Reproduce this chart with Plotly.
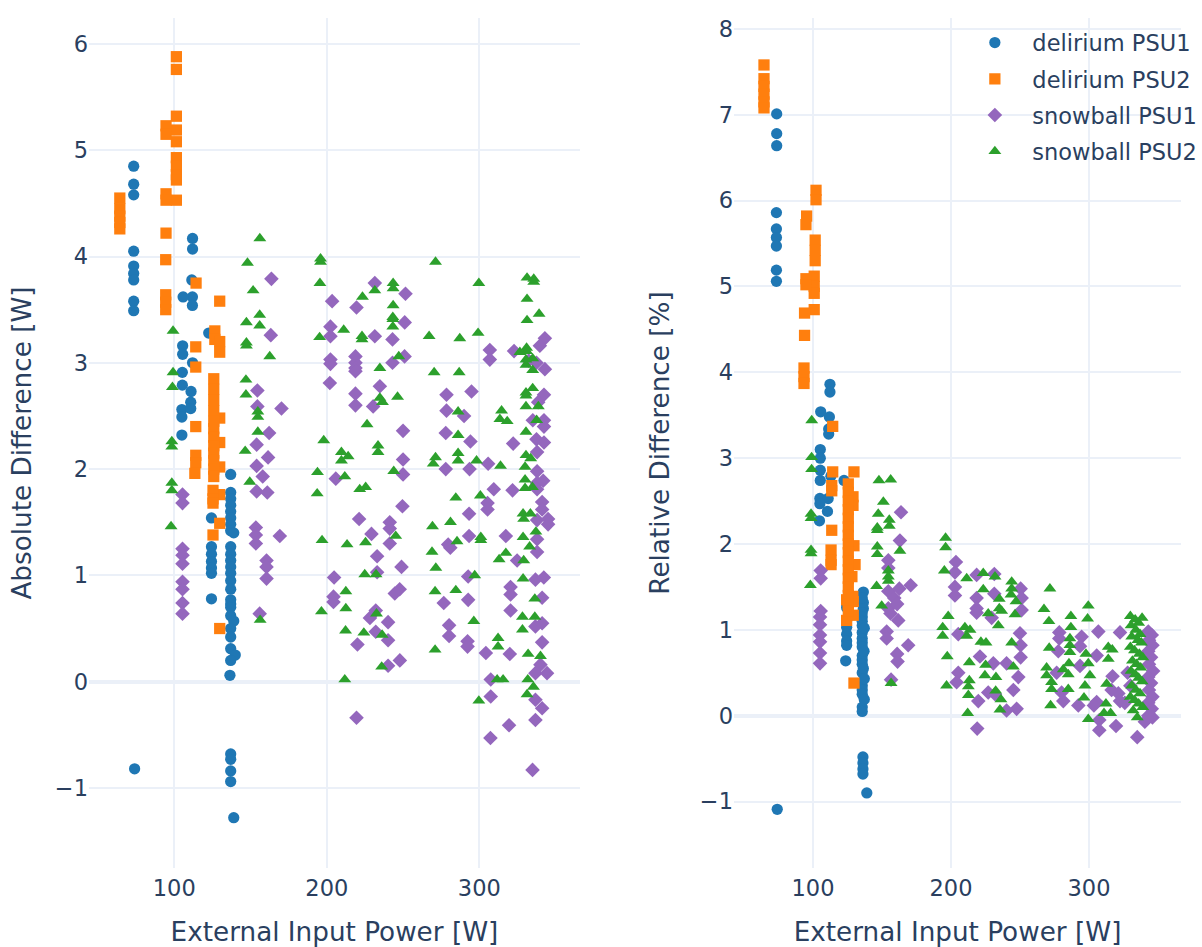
import plotly.graph_objects as go
from plotly.subplots import make_subplots

# ---------------- Absolute difference [W] vs external input power [W] ----------------
del1_abs_x = [73.4, 73.4, 73.4, 73.4, 73.4, 73.4, 73.4, 73.4, 73.4, 74.0,
              112.0, 112.0, 111.5, 111.9, 111.9, 112.0,
              105.8, 105.5, 105.5, 105.3, 105.3, 105.0, 105.0, 105.0,
              111.0, 110.8, 110.8, 122.6,
              124.4, 124.4, 124.4, 124.4, 124.4, 124.4, 124.4,
              137.0, 137.0, 137.0, 137.0, 137.0, 137.0, 137.0, 137.0, 139.0, 137.0,
              137.0, 137.0, 137.0, 137.0, 137.0, 137.0, 137.0, 137.0, 137.0, 137.0,
              139.0, 137.0, 137.0, 137.0, 140.0, 137.0, 136.5,
              137.0, 137.0, 137.0, 137.0, 139.0]
del1_abs_y = [4.85, 4.68, 4.58, 4.05, 3.91, 3.84, 3.78, 3.58, 3.49, -0.82,
              4.17, 4.07, 3.78, 3.62, 3.54, 3.00,
              3.62, 3.16, 3.08, 2.91, 2.79, 2.56, 2.49, 2.32,
              2.73, 2.63, 2.57, 3.28,
              1.54, 1.27, 1.20, 1.13, 1.07, 1.02, 0.78,
              1.95, 1.78, 1.72, 1.66, 1.60, 1.54, 1.48, 1.42, 1.40, 1.27,
              1.20, 1.14, 1.08, 1.02, 0.95, 0.87, 0.77, 0.73, 0.70, 0.62,
              0.57, 0.50, 0.42, 0.31, 0.25, 0.20, 0.06,
              -0.68, -0.73, -0.84, -0.94, -1.28]

del2_abs_x = [64.3, 64.3, 64.3, 64.3, 64.3,
              101.4, 101.4, 101.4, 101.4, 101.4, 101.4, 101.4, 101.4, 101.4, 101.4,
              94.6, 94.6, 94.6, 94.6, 94.6, 94.4, 94.4, 94.4, 94.4,
              114.3, 114.1, 114.1, 114.1, 114.1, 114.1, 113.5,
              126.6, 126.6,
              129.8, 129.8, 129.8, 129.8, 129.8, 129.8, 129.8, 129.8, 129.8,
              125.9, 125.9, 125.9, 125.9, 125.9, 125.9, 125.9, 125.9, 125.9, 125.9,
              125.9, 125.9, 125.4, 125.4, 125.4, 125.4]
del2_abs_y = [4.55, 4.45, 4.38, 4.32, 4.26,
              5.88, 5.76, 5.32, 5.19, 5.08, 4.93, 4.85, 4.77, 4.72, 4.53,
              5.23, 5.15, 4.59, 4.53, 4.22, 3.97, 3.64, 3.57, 3.50,
              3.75, 3.15, 2.96, 2.40, 2.13, 2.06, 1.96,
              3.30, 3.22,
              3.58, 3.20, 3.10, 2.48, 2.25, 2.02, 1.76, 1.49, 0.50,
              2.85, 2.75, 2.65, 2.55, 2.45, 2.38, 2.30, 2.22, 2.15, 2.08,
              2.00, 1.93, 1.80, 1.72, 1.68, 1.38]

snow1_abs_x = [163.7, 163.3, 154.5, 154.5, 170.3, 162.2, 154.0, 161.5, 154.0, 158.0,
               154.0, 161.0, 153.5, 153.5, 153.5, 169.2, 160.5, 160.5, 160.5, 156.0,
               105.4, 105.4, 105.4, 105.4, 105.4, 105.4, 105.4, 105.4, 105.4,
               231.5, 251.6, 203.5, 219.5, 251.1, 202.4, 202.4, 231.5, 243.1, 202.4,
               202.4, 218.8, 218.8, 218.8, 218.8, 243.1, 251.0, 202.0, 234.8, 218.8,
               218.8, 230.4, 250.0, 250.0, 250.0, 205.9,
               249.6, 221.2, 241.3, 241.3, 229.3, 241.3, 233.0, 249.0, 204.8, 233.0,
               244.6, 247.8, 204.4, 204.4, 232.1, 228.3, 240.2, 232.1, 240.2, 220.1,
               247.9, 240.2, 219.5,
               343.0, 339.7, 306.9, 322.8, 306.9, 337.5, 343.0, 332.4, 278.5, 294.9,
               342.4, 338.6, 278.5, 290.0, 335.1, 342.4, 342.4, 278.0, 294.2, 322.2,
               337.5, 342.4, 337.9, 305.8, 278.0, 293.6, 337.9, 309.5, 321.8, 337.9,
               337.9, 341.9,
               305.4, 305.4, 293.3, 293.3, 279.6, 281.0, 317.4, 324.8, 337.9, 345.1,
               345.1, 337.9, 337.9, 341.2, 341.2, 292.7, 336.8, 342.3, 276.7, 292.7,
               320.5, 320.5, 320.5, 341.2, 280.2, 280.2, 292.3, 292.3, 336.8, 341.2,
               341.2, 304.3, 320.0, 336.8, 344.4, 340.1, 307.5, 307.5, 336.8, 341.2,
               336.8, 319.5, 307.3, 334.9]
snow1_abs_y = [3.79, 3.26, 2.74, 2.59, 2.57, 2.34, 2.23, 2.11, 2.03, 1.93,
               1.79, 1.78, 1.45, 1.38, 1.30, 1.37, 1.14, 1.08, 0.97, 0.64,
               1.76, 1.68, 1.25, 1.19, 1.11, 0.94, 0.87, 0.74, 0.64,
               3.75, 3.65, 3.58, 3.52, 3.38, 3.34, 3.25, 3.25, 3.22, 3.03,
               2.99, 3.06, 3.00, 2.95, 2.92, 3.00, 3.06, 2.81, 2.78, 2.71,
               2.60, 2.59, 2.36, 2.09, 1.95, 1.91,
               1.65, 1.53, 1.50, 1.44, 1.39, 1.30, 1.18, 1.08, 0.98, 1.03,
               0.83, 0.87, 0.80, 0.75, 0.67, 0.60, 0.56, 0.47, 0.39, 0.35,
               0.20, 0.15, -0.34,
               3.23, 3.16, 3.12, 3.11, 3.03, 3.00, 2.94, 3.02, 2.70, 2.73,
               2.70, 2.63, 2.55, 2.50, 2.46, 2.46, 2.40, 2.34, 2.26, 2.24,
               2.28, 2.25, 2.16, 2.05, 2.00, 2.00, 1.98, 1.81, 1.80, 1.87,
               1.81, 1.89,
               1.68, 1.62, 1.58, 1.37, 1.29, 1.26, 1.37, 1.14, 1.52, 1.53,
               1.48, 1.34, 1.22, 1.69, 1.62, 0.99, 0.96, 0.98, 0.74, 0.77,
               0.89, 0.82, 0.67, 0.79, 0.53, 0.43, 0.38, 0.33, 0.52, 0.55,
               0.37, 0.27, 0.26, 0.08, 0.08, 0.16, 0.02, -0.14, -0.17, -0.25,
               -0.36, -0.41, -0.53, -0.83]

snow2_abs_x = [156.1, 148.0, 151.7, 156.0, 99.2, 147.3, 156.0, 147.3, 147.3, 162.6,
               99.2, 98.8, 147.0, 147.0, 154.8, 154.8, 154.8, 98.4, 98.4, 146.5,
               98.4, 98.4, 149.5, 97.9, 156.3,
               195.9, 195.9, 195.5, 195.3, 271.3, 231.5, 223.4, 243.5, 243.5, 243.5,
               243.3, 243.3, 243.3, 211.1, 223.1, 223.1, 267.1, 247.2, 234.8, 270.4,
               234.8, 236.5, 246.4, 226.4, 198.0, 209.6, 214.0, 209.6, 233.6, 233.6,
               243.9, 193.9, 211.8, 271.3, 269.8, 193.7, 221.6, 225.5,
               196.9, 213.3, 225.4, 245.2, 269.3, 269.0, 271.5, 224.9, 232.3, 212.5,
               212.5, 196.5, 212.3, 224.3, 232.6, 236.3, 236.0, 211.8, 271.0, 271.0,
               299.7, 331.3, 335.7, 335.7, 331.3, 339.2, 331.3, 287.2, 299.2, 331.0,
               331.0, 326.6, 330.6, 335.0, 330.6, 335.0, 286.8, 330.6, 335.0, 330.6,
               330.6, 338.7, 286.1, 314.6, 313.5, 318.3, 337.6, 330.6, 286.1, 286.1,
               286.1, 298.2, 313.9, 330.6, 333.7, 330.0, 330.0, 330.0, 334.8, 300.7,
               284.6,
               281.1, 285.4, 301.0, 301.0, 328.7, 333.5, 329.1, 337.1, 328.7, 333.0,
               317.4, 313.0, 329.1, 297.0, 328.7, 284.6, 336.4, 296.4, 328.3, 336.4,
               328.3, 312.3, 312.3, 332.0, 340.1, 311.7, 315.6, 331.8, 335.5, 331.3,
               299.7]
snow2_abs_y = [4.17, 3.94, 3.68, 3.45, 3.30, 3.38, 3.35, 3.19, 3.16, 3.06,
               2.91, 2.77, 2.84, 2.70, 2.54, 2.49, 2.35, 2.26, 2.21, 2.17,
               1.87, 1.80, 1.88, 1.46, 0.58,
               3.98, 3.95, 3.75, 3.24, 3.95, 3.68, 3.62, 3.75, 3.70, 3.54,
               3.43, 3.41, 3.34, 3.31, 3.25, 3.22, 3.25, 3.06, 2.95, 2.91,
               2.67, 2.63, 2.68, 2.42, 2.27, 2.16, 2.12, 2.08, 2.22, 2.16,
               1.98, 1.97, 1.93, 2.11, 2.05, 1.77, 1.81, 1.83,
               1.33, 1.29, 1.31, 1.37, 1.46, 1.22, 1.07, 1.01, 1.01, 0.85,
               0.69, 0.66, 0.48, 0.46, 0.64, 0.44, 0.14, 0.02, 0.85, 0.30,
               3.75, 3.80, 3.79, 3.76, 3.60, 3.46, 3.40, 3.23, 3.28, 3.14,
               3.11, 3.10, 3.03, 3.04, 2.98, 2.93, 2.91, 2.72, 2.76, 2.69,
               2.59, 2.59, 2.54, 2.55, 2.47, 2.45, 2.46, 2.35, 2.32, 2.15,
               2.08, 2.08, 2.03, 2.13, 2.10, 2.02, 1.90, 1.82, 1.83, 1.75,
               1.73,
               1.50, 1.32, 1.36, 1.33, 1.58, 1.58, 1.53, 1.41, 1.36, 1.27,
               1.21, 1.15, 1.14, 1.00, 0.97, 0.86, 0.78, 0.57, 0.61, 0.61,
               0.49, 0.41, 0.33, 0.26, 0.24, 0.02, 0.02, 0.02, -0.05, -0.12,
               -0.18]

# ---------------- Relative difference [%] vs external input power [W] ----------------
del1_rel_x = [73.7, 73.7, 73.7, 73.5, 73.5, 73.5, 73.5, 73.5, 73.5, 74.1,
              112.3, 112.3, 105.6, 111.9, 111.4, 111.4, 105.3, 105.3, 105.3, 105.3,
              113.0, 122.5, 105.0, 111.0, 105.0, 110.5, 104.7,
              136.5, 136.5, 136.5, 124.4, 124.4, 124.4, 124.4, 124.4, 124.4, 124.4, 123.7,
              135.7, 135.7, 135.7, 135.7, 135.7, 135.7, 135.7, 135.7, 135.7, 135.7,
              135.7, 135.7, 135.7, 135.7, 135.7, 135.7, 135.7, 135.7,
              137.2, 137.0, 136.5, 137.2, 137.2,
              136.2, 136.2, 136.2, 136.2, 139.0]
del1_rel_y = [7.01, 6.78, 6.64, 5.86, 5.67, 5.57, 5.47, 5.19, 5.06, -1.09,
              3.86, 3.77, 3.54, 3.48, 3.34, 3.28, 3.10, 3.00, 2.86, 2.74,
              2.79, 2.74, 2.53, 2.53, 2.47, 2.38, 2.27,
              1.44, 1.32, 1.25, 1.30, 1.26, 1.11, 1.03, 0.95, 0.87, 0.82, 0.64,
              1.37, 1.20, 1.15, 1.10, 1.05, 0.97, 0.90, 0.85, 0.80, 0.70,
              0.65, 0.60, 0.50, 0.35, 0.30, 0.25, 0.10, 0.05,
              1.02, 0.75, 0.55, 0.43, 0.19,
              -0.48, -0.55, -0.62, -0.68, -0.90]

del2_rel_x = [64.5, 64.5, 64.5, 64.5, 64.5, 64.5,
              102.2, 102.2, 101.6, 101.6, 101.6, 100.9, 100.9, 100.9, 100.9,
              95.4, 94.9, 94.9, 94.9, 93.9, 93.9, 93.5, 93.5, 93.5,
              114.3, 114.3, 113.6, 113.6, 113.6, 113.1, 113.1, 113.1,
              129.7, 129.0, 129.0, 129.7, 130.5, 128.2, 128.9, 124.4, 129.2, 124.4,
              129.2, 129.7,
              125.6, 125.6, 125.6, 125.6, 125.6, 125.6, 125.6, 125.6, 125.6, 125.6,
              125.6, 125.6, 125.6, 125.6, 125.6, 125.6]
del2_rel_y = [7.58, 7.42, 7.33, 7.24, 7.15, 7.08,
              6.12, 6.01, 5.54, 5.42, 5.30, 5.12, 5.00, 4.92, 4.73,
              5.82, 5.72, 5.09, 5.02, 4.69, 4.43, 4.05, 3.95, 3.87,
              3.37, 2.84, 2.68, 2.62, 2.16, 1.93, 1.81, 1.76,
              2.84, 2.55, 2.45, 1.98, 1.76, 1.62, 1.39, 1.35, 1.33, 1.11,
              1.17, 0.38,
              2.70, 2.60, 2.50, 2.40, 2.30, 2.20, 2.10, 2.00, 1.90, 1.80,
              1.70, 1.60, 1.50, 1.40, 1.30, 1.22]

snow1_rel_x = [163.8, 163.0, 154.6, 154.6, 105.6, 105.6, 170.8, 154.6, 162.6, 158.9,
               154.6, 105.6, 105.1, 105.1, 105.1, 105.1, 105.1, 105.1, 153.4, 153.4,
               161.0, 156.2, 161.8, 169.0, 161.0, 161.3, 156.6,
               203.6, 202.9, 202.9, 202.9, 218.6, 218.6, 218.6, 218.6, 231.4, 231.4,
               229.5, 250.5, 251.2, 251.2, 250.0, 250.5, 250.5, 248.8, 247.6, 240.3,
               245.2, 240.3, 205.3, 205.3, 204.1, 221.0, 230.7, 227.0, 231.9, 219.8,
               219.0,
               278.5, 278.5, 277.8, 276.6, 280.2, 281.4, 294.7, 293.5, 293.5, 292.3,
               306.8, 305.6, 307.5, 319.6, 307.5, 305.6, 303.6, 317.1, 321.3, 322.5,
               316.4, 322.5,
               343.0, 345.5, 343.5, 346.0, 343.0, 345.0, 343.5, 346.5, 343.0, 345.0,
               343.5, 346.0, 343.0, 345.5, 343.0, 346.0, 335.0, 340.5, 328.0, 330.0,
               326.0]
snow1_rel_y = [2.37, 2.04, 1.81, 1.72, 1.69, 1.60, 1.52, 1.45, 1.48, 1.37,
               1.25, 1.22, 1.15, 1.06, 0.94, 0.86, 0.73, 0.61, 0.98, 0.90,
               1.30, 1.19, 1.11, 0.82, 0.72, 0.63, 0.42,
               1.79, 1.67, 1.50, 1.40, 1.64, 1.37, 1.25, 1.20, 1.65, 1.42,
               1.14, 1.48, 1.37, 1.23, 0.96, 0.82, 0.68, 0.45, 0.08, 0.06,
               0.30, 0.61, 0.95, 0.50, 0.39, 0.69, 0.61, 0.27, 0.25, 0.17,
               -0.15,
               0.97, 0.90, 0.75, 0.50, 0.27, 0.17, 0.92, 0.81, 0.58, 0.12,
               0.98, 0.70, -0.05, -0.12, -0.17, 0.16, 0.12, 0.46, 0.26, 0.17,
               0.30, 0.97,
               0.98, 0.94, 0.88, 0.82, 0.75, 0.68, 0.60, 0.52, 0.45, 0.38,
               0.30, 0.22, 0.15, 0.08, 0.00, -0.02, -0.25, -0.07, 0.50, 0.35,
               0.15]

snow2_rel_x = [99.1, 99.0, 99.0, 98.6, 98.6, 98.6, 98.6, 98.1, 147.8, 156.3,
               151.0, 147.3, 155.3, 155.3, 146.6, 146.6, 146.6, 146.6, 163.0, 154.6,
               154.6, 154.6, 146.1, 149.8, 156.6,
               196.1, 196.1, 195.2, 198.0, 194.0, 194.0, 197.3, 196.8, 211.4, 223.4,
               231.9, 223.4, 210.1, 213.8, 211.4, 235.0, 235.0, 236.7, 227.0, 234.3,
               244.0, 244.0, 243.5, 247.1, 246.4, 221.7, 225.4, 244.0, 213.3, 225.1,
               245.2, 213.3, 212.6, 212.6, 224.6, 232.6, 232.4, 236.2, 235.5, 212.1,
               271.7, 267.4, 271.0, 286.9, 286.9, 286.2, 286.2, 286.2, 271.2, 269.3,
               269.3, 272.9, 272.9, 272.2, 281.4, 285.0, 285.5, 285.0, 299.5, 299.0,
               297.8, 299.5, 300.7, 297.1, 296.4, 299.5, 314.0, 316.9, 314.0, 312.8,
               312.3, 310.9, 315.7,
               330.0, 333.5, 336.0, 338.5, 330.5, 334.0, 337.0, 331.0, 335.5, 338.0,
               330.0, 333.0, 336.5, 339.0, 331.5, 334.5, 337.5, 330.5, 333.5, 336.0,
               338.5, 331.0, 334.0, 337.0, 330.0, 333.0, 336.0, 339.0, 332.0, 335.0]
snow2_rel_y = [3.44, 3.01, 2.87, 2.35, 2.30, 1.93, 1.89, 1.52, 2.74, 2.75,
               2.49, 2.35, 2.28, 2.21, 2.19, 2.16, 1.97, 1.88, 1.92, 1.69,
               1.62, 1.57, 1.51, 1.28, 0.38,
               2.07, 1.96, 1.69, 1.16, 1.03, 0.93, 0.69, 0.35, 1.60, 1.66,
               1.62, 1.47, 1.03, 1.00, 0.93, 1.36, 1.25, 1.22, 1.19, 1.05,
               1.56, 1.48, 1.41, 1.33, 1.18, 0.86, 0.85, 0.85, 0.62, 0.59,
               0.57, 0.41, 0.34, 0.24, 0.47, 0.45, 0.29, 0.19, 0.07, 0.03,
               1.48, 1.24, 1.10, 1.16, 1.03, 0.90, 0.82, 0.74, 0.79, 0.56,
               0.47, 0.39, 0.31, 0.12, 0.54, 0.48, 0.61, 0.31, 1.28, 1.13,
               0.72, 0.61, 0.47, 0.35, 0.21, -0.04, 0.80, 0.77, 0.66, 0.37,
               0.14, 0.03, 0.03,
               1.16, 1.12, 1.08, 1.14, 1.05, 1.00, 0.95, 0.92, 0.88, 0.85,
               0.80, 0.76, 0.72, 0.68, 0.64, 0.60, 0.56, 0.52, 0.48, 0.44,
               0.40, 0.35, 0.30, 0.26, 0.22, 0.18, 0.14, 0.10, 0.06, -0.02]

names = ["delirium PSU1", "delirium PSU2", "snowball PSU1", "snowball PSU2"]
colors = ["#1f77b4", "#ff7f0e", "#9467bd", "#2ca02c"]
symbols = ["circle", "square", "diamond", "triangle-up"]
abs_data = [(del1_abs_x, del1_abs_y), (del2_abs_x, del2_abs_y),
            (snow1_abs_x, snow1_abs_y), (snow2_abs_x, snow2_abs_y)]
rel_data = [(del1_rel_x, del1_rel_y), (del2_rel_x, del2_rel_y),
            (snow1_rel_x, snow1_rel_y), (snow2_rel_x, snow2_rel_y)]

fig = make_subplots(rows=1, cols=2)

for name, color, sym, (ax, ay), (rx, ry) in zip(names, colors, symbols, abs_data, rel_data):
    marker = dict(color=color, symbol=sym, size=11.25)
    fig.add_trace(go.Scatter(x=ax, y=ay, mode="markers", name=name, legendgroup=name,
                             marker=marker), row=1, col=1)
    fig.add_trace(go.Scatter(x=rx, y=ry, mode="markers", name=name, legendgroup=name,
                             marker=marker, showlegend=False), row=1, col=2)

tick_font = dict(size=22.5)
title_font = dict(size=26.25)
grid = dict(gridwidth=1.875, gridcolor="#EBF0F8", zerolinewidth=3.75, zerolinecolor="#EBF0F8")

fig.update_layout(
    template="plotly_white",
    width=1202, height=947,
    margin=dict(l=89, r=21, t=18, b=79, autoexpand=False),
    font=dict(family="DejaVu Sans", size=22.5, color="#2a3f5f"),
    legend=dict(x=0.7952, y=0.996, xanchor="left", yanchor="top", itemwidth=65,
                tracegroupgap=4, bgcolor="rgba(0,0,0,0)", font=dict(size=22.5)),
    xaxis=dict(domain=[0.0, 0.4496], range=[44.1, 366.0], dtick=100, ticklabelstandoff=4,
               title=dict(text="External Input Power [W]", font=title_font, standoff=24),
               tickfont=tick_font, **grid),
    xaxis2=dict(domain=[0.5907, 1.0], range=[42.8, 366.7], dtick=100, ticklabelstandoff=4,
                title=dict(text="External Input Power [W]", font=title_font, standoff=24),
                tickfont=tick_font, **grid),
    yaxis=dict(range=[-1.753, 6.244], dtick=1,
               title=dict(text="Absolute Difference [W]", font=title_font, standoff=15),
               tickfont=tick_font, **grid),
    yaxis2=dict(range=[-1.774, 8.127], dtick=1,
                title=dict(text="Relative Difference [%]", font=title_font, standoff=22),
                tickfont=tick_font, **grid),
)

fig.write_html("out.html")
